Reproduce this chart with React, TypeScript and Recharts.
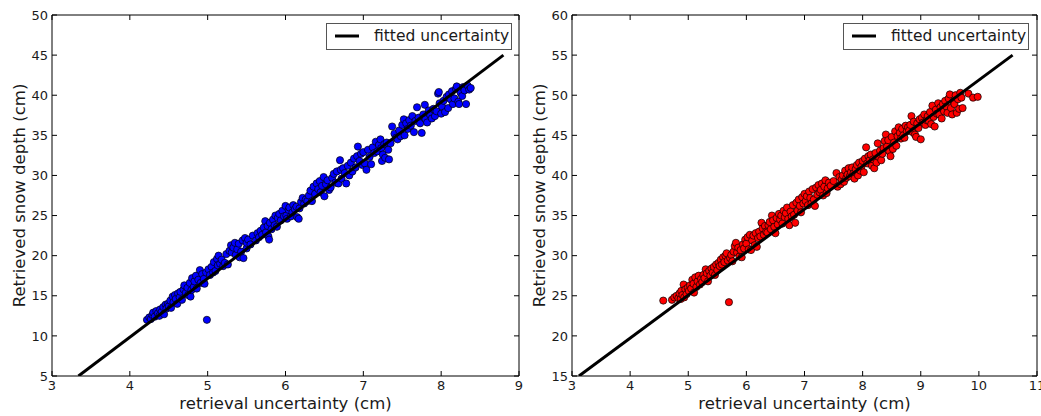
import React from 'react';
import { ScatterChart, Scatter, XAxis, YAxis, Legend } from 'recharts';

const leftPoints: [number, number][] = [
  [4.22, 12.0], [4.25, 12.3], [4.27, 12.1], [4.29, 12.6], [4.3, 12.9], [4.32, 12.4], [4.34, 13.1], [4.36, 12.8],
  [4.38, 12.5], [4.39, 13.3], [4.41, 13.0], [4.43, 13.6], [4.44, 12.7], [4.46, 13.9], [4.47, 13.4], [4.49, 14.0], [4.5, 13.7],
  [4.52, 14.4], [4.53, 13.5], [4.55, 14.9], [4.56, 14.2], [4.58, 15.1], [4.59, 14.6], [4.61, 14.0], [4.62, 15.3],
  [4.64, 14.8], [4.65, 15.5], [4.67, 14.5], [4.69, 15.8], [4.7, 16.3], [4.72, 15.4], [4.74, 16.0], [4.75, 15.1],
  [4.77, 16.6], [4.78, 14.9], [4.79, 15.7],
  [4.8, 17.2], [4.82, 16.1], [4.83, 16.8], [4.85, 17.5], [4.86, 15.9], [4.88, 17.0], [4.9, 18.2], [4.91, 16.6],
  [4.93, 17.7], [4.95, 17.1], [4.96, 16.5], [4.98, 17.9],
  [4.99, 12.0],
  [5.01, 18.3], [5.03, 17.6], [5.05, 18.6], [5.07, 17.9], [5.08, 19.2], [5.1, 18.1], [5.12, 19.6], [5.13, 18.8],
  [5.14, 20.0], [5.16, 19.0], [5.18, 19.5], [5.2, 18.7], [5.22, 19.1], [5.24, 20.2], [5.26, 18.9], [5.28, 20.6],
  [5.3, 21.3], [5.31, 20.4], [5.33, 21.0], [5.35, 21.6], [5.36, 20.1], [5.38, 20.8], [5.4, 21.5], [5.41, 19.8],
  [5.43, 20.5], [5.45, 21.9], [5.46, 19.7], [5.48, 22.2], [5.5, 20.9], [5.5, 21.6], [5.52, 22.0], [5.55, 21.4], [5.58, 22.5],
  [5.62, 21.9], [5.64, 22.8], [5.66, 22.3], [5.68, 23.1], [5.7, 22.6], [5.72, 23.5], [5.74, 24.3], [5.75, 22.9],
  [5.77, 23.7], [5.78, 22.4], [5.79, 22.0], [5.8, 24.1], [5.82, 23.3], [5.84, 24.5], [5.86, 23.8], [5.87, 25.0],
  [5.89, 23.6], [5.9, 24.7], [5.92, 25.2], [5.94, 24.4], [5.96, 25.6], [5.98, 24.9],
  [6.0, 26.2], [6.01, 25.0], [6.02, 24.6], [6.04, 25.7], [6.05, 26.0], [6.07, 24.9], [6.09, 25.4], [6.1, 26.3],
  [6.12, 25.8], [6.14, 26.1], [6.15, 24.8], [6.17, 24.6], [6.18, 25.9], [6.2, 26.7], [6.22, 27.2], [6.24, 26.5],
  [6.26, 27.0], [6.28, 26.8], [6.3, 27.5], [6.32, 28.1], [6.34, 26.8], [6.36, 28.6], [6.38, 27.7],
  [6.4, 29.0], [6.42, 28.3], [6.44, 29.3], [6.45, 27.9], [6.47, 28.7], [6.49, 29.8], [6.5, 27.4], [6.52, 28.9],
  [6.54, 29.4], [6.56, 28.2], [6.58, 28.5], [6.6, 29.7], [6.62, 30.2], [6.64, 29.1], [6.66, 30.5], [6.68, 29.0],
  [6.7, 31.9], [6.71, 30.7], [6.72, 29.6], [6.74, 30.9], [6.76, 30.3], [6.78, 29.0],
  [6.8, 31.2], [6.82, 30.0], [6.84, 31.6], [6.86, 30.5], [6.88, 32.1], [6.9, 31.0], [6.92, 32.4], [6.93, 33.6],
  [6.95, 31.8], [6.97, 32.7], [6.99, 31.3], [7.0, 32.9], [7.02, 31.5], [7.04, 30.7], [7.06, 33.2], [7.08, 32.3],
  [7.1, 31.4], [7.12, 33.5], [7.14, 32.8], [7.16, 34.2], [7.18, 33.0],
  [7.2, 33.8], [7.22, 34.5], [7.23, 33.4], [7.24, 31.8], [7.25, 32.6], [7.27, 33.9], [7.28, 32.2], [7.3, 34.1],
  [7.32, 33.2], [7.33, 32.0], [7.35, 34.0], [7.37, 36.1], [7.4, 35.2], [7.42, 34.7], [7.44, 34.5], [7.46, 35.6], [7.48, 34.9],
  [7.5, 36.3], [7.52, 37.0], [7.53, 35.0], [7.55, 36.5], [7.57, 35.8], [7.59, 36.9], [7.61, 36.2], [7.63, 37.4],
  [7.65, 35.4], [7.67, 36.8], [7.69, 38.5], [7.71, 37.2], [7.73, 36.5], [7.75, 35.3], [7.77, 37.6], [7.79, 38.8],
  [7.8, 37.0], [7.82, 36.6], [7.84, 38.1], [7.86, 37.5], [7.88, 37.1], [7.9, 38.3], [7.92, 37.4], [7.94, 38.0],
  [7.96, 40.2], [7.97, 40.4], [7.98, 39.0], [8.0, 37.7], [8.01, 38.6], [8.03, 39.3], [8.05, 37.9], [8.07, 39.8], [8.09, 38.4],
  [8.1, 40.1], [8.12, 39.5], [8.14, 40.5], [8.15, 38.9], [8.17, 39.6], [8.19, 40.8], [8.2, 41.1], [8.22, 39.2],
  [8.23, 38.9], [8.25, 40.3], [8.27, 39.9], [8.28, 41.0], [8.3, 40.6], [8.32, 38.9], [8.34, 41.2], [8.36, 40.7], [8.38, 40.9],
];

const rightPoints: [number, number][] = [
  [4.57, 24.4],
  [4.72, 24.5], [4.76, 24.8], [4.8, 25.0], [4.83, 24.7], [4.85, 25.3], [4.87, 24.6], [4.88, 25.6], [4.9, 25.1],
  [4.92, 26.4], [4.93, 24.8], [4.95, 25.8], [4.97, 25.2], [4.99, 26.0],
  [5.01, 25.6], [5.03, 26.3], [5.05, 25.9], [5.07, 27.0], [5.09, 26.5], [5.1, 25.4], [5.12, 27.3], [5.14, 26.1],
  [5.16, 26.8], [5.18, 27.5], [5.2, 26.4], [5.22, 27.1], [5.24, 26.7], [5.26, 27.6], [5.28, 27.2], [5.3, 28.3],
  [5.32, 27.8], [5.34, 26.8], [5.36, 28.1], [5.38, 27.5],
  [5.4, 28.4], [5.42, 27.9], [5.44, 28.6], [5.46, 27.6], [5.48, 28.9], [5.5, 28.2], [5.52, 29.1], [5.54, 28.7],
  [5.56, 29.5], [5.58, 28.9], [5.6, 29.8], [5.62, 29.2], [5.64, 30.0], [5.66, 30.3], [5.68, 29.4], [5.7, 24.2],
  [5.72, 29.7], [5.74, 30.1], [5.76, 29.3], [5.78, 30.5],
  [5.8, 31.2], [5.82, 31.6], [5.84, 30.4], [5.86, 31.0], [5.88, 29.9], [5.9, 30.7], [5.92, 29.8], [5.94, 31.4],
  [5.96, 30.9], [5.98, 32.0], [6.0, 31.5], [6.02, 32.3], [6.04, 30.8], [6.06, 32.6], [6.08, 30.7], [6.1, 31.9],
  [6.12, 32.5], [6.14, 31.3], [6.16, 32.8], [6.18, 31.1],
  [6.2, 32.2], [6.22, 33.0], [6.24, 32.4], [6.26, 34.1], [6.28, 33.4], [6.3, 32.6], [6.32, 33.7], [6.34, 33.0],
  [6.36, 32.9], [6.38, 33.8], [6.4, 34.2], [6.42, 33.3], [6.44, 35.0], [6.46, 34.4], [6.48, 33.6], [6.5, 32.8],
  [6.52, 34.7], [6.54, 33.9], [6.56, 35.2], [6.58, 34.5],
  [6.6, 35.0], [6.62, 34.0], [6.64, 35.6], [6.66, 34.8], [6.68, 35.3], [6.7, 36.0], [6.72, 34.6], [6.74, 33.8],
  [6.76, 35.5], [6.78, 34.9], [6.8, 36.3], [6.82, 35.1], [6.84, 34.1], [6.86, 36.6], [6.88, 35.6], [6.9, 37.0],
  [6.92, 36.2], [6.94, 35.4], [6.96, 37.3], [6.98, 36.5],
  [7.0, 37.7], [7.02, 36.8], [7.04, 37.4], [7.06, 36.3], [7.08, 38.0], [7.1, 37.2], [7.12, 36.5], [7.14, 38.3],
  [7.16, 37.0], [7.18, 36.2], [7.2, 38.5], [7.22, 37.6], [7.24, 38.8], [7.26, 37.9], [7.28, 38.2], [7.3, 39.0],
  [7.32, 37.5], [7.34, 38.6], [7.36, 39.4], [7.38, 37.8],
  [7.4, 38.4], [7.42, 39.1], [7.45, 38.7], [7.5, 39.3], [7.55, 40.3], [7.57, 38.6], [7.6, 39.8], [7.62, 38.9],
  [7.64, 39.5], [7.66, 40.0], [7.68, 39.2], [7.7, 40.6], [7.72, 39.7], [7.74, 40.1], [7.76, 40.9], [7.78, 39.9],
  [7.8, 40.4], [7.82, 41.0], [7.84, 40.2], [7.86, 39.6], [7.88, 40.8], [7.9, 41.3], [7.92, 40.0], [7.94, 41.6],
  [7.96, 40.6], [7.98, 41.1], [8.0, 41.8], [8.02, 40.4], [8.04, 42.1], [8.06, 43.5], [8.08, 41.5], [8.1, 42.4],
  [8.12, 41.9], [8.14, 42.6], [8.16, 41.2], [8.18, 42.0], [8.2, 40.9],
  [8.22, 42.8], [8.24, 41.6], [8.26, 44.0], [8.28, 42.3], [8.3, 43.1], [8.32, 41.9], [8.34, 42.7], [8.36, 43.4],
  [8.38, 44.3], [8.4, 45.1], [8.42, 43.6], [8.44, 44.4], [8.46, 43.0], [8.48, 42.4], [8.5, 44.8], [8.52, 43.3],
  [8.54, 44.1], [8.56, 45.5], [8.58, 43.7],
  [8.6, 44.9], [8.62, 46.0], [8.64, 45.3], [8.66, 44.6], [8.68, 45.8], [8.7, 45.0], [8.72, 44.7], [8.74, 46.2],
  [8.76, 45.5], [8.78, 46.0], [8.8, 45.6], [8.82, 46.3], [8.84, 47.4], [8.86, 45.4], [8.88, 46.7], [8.9, 45.1],
  [8.92, 44.8], [8.94, 46.5], [8.96, 45.9], [8.98, 47.0],
  [9.0, 44.5], [9.02, 47.2], [9.04, 46.6], [9.06, 47.6], [9.08, 46.3], [9.1, 46.9], [9.12, 47.4], [9.14, 46.8],
  [9.16, 47.9], [9.18, 46.4], [9.2, 48.7], [9.22, 47.3], [9.24, 46.1], [9.26, 48.2], [9.28, 47.7], [9.3, 49.0],
  [9.32, 47.6], [9.34, 48.5], [9.36, 47.1], [9.38, 48.9],
  [9.4, 48.0], [9.42, 49.3], [9.44, 48.6], [9.46, 47.8], [9.48, 49.6], [9.5, 50.1], [9.52, 48.4], [9.54, 47.6],
  [9.56, 49.2], [9.58, 48.9], [9.6, 50.0], [9.62, 47.8], [9.64, 49.5], [9.66, 48.3], [9.68, 50.3], [9.7, 49.7],
  [9.72, 48.4], [9.82, 50.2], [9.9, 49.7], [9.98, 49.8],
];

const leftFit: [number, number][] = [[3.34, 5], [8.8, 45]];
const rightFit: [number, number][] = [[3.12, 15], [10.58, 55]];

const leftXTicks = [3, 4, 5, 6, 7, 8, 9];
const leftYTicks = [5, 10, 15, 20, 25, 30, 35, 40, 45, 50];
const rightXTicks = [3, 4, 5, 6, 7, 8, 9, 10, 11];
const rightYTicks = [15, 20, 25, 30, 35, 40, 45, 50, 55, 60];

const xLabel = 'retrieval uncertainty (cm)';
const yLabel = 'Retrieved snow depth (cm)';
const legendLabel = 'fitted uncertainty';

const FONT = "'DejaVu Sans', sans-serif";
const TEXT = '#1a1a1a';

const NoTick = () => <g />;

const YLabel = (props: any) => {
  const vb = props.viewBox || { x: 0, y: 15, width: 52, height: 361 };
  const cx = vb.x + 19;
  const cy = vb.y + vb.height / 2;
  return (
    <text x={cx} y={cy} transform={`rotate(-90 ${cx} ${cy})`} textAnchor="middle" dominantBaseline="central"
      fontSize={16.5} fill={TEXT} fontFamily={FONT}>{yLabel}</text>
  );
};

const XLabel = (props: any) => {
  const vb = props.viewBox || { x: 52, y: 376, width: 467, height: 40 };
  const cx = vb.x + vb.width / 2;
  const cy = vb.y + 33;
  return (
    <text x={cx} y={cy} textAnchor="middle" fontSize={16.5} fill={TEXT} fontFamily={FONT}>{xLabel}</text>
  );
};

const LegendBox = () => (
  <div style={{
    position: 'relative', width: 186, height: 27, boxSizing: 'border-box', border: '1px solid #555',
    background: '#fff', fontFamily: FONT, fontSize: 15.5, color: TEXT,
  }}>
    <svg width={40} height={25} style={{ position: 'absolute', left: 0, top: 0 }}>
      <line x1={8} x2={32} y1={12} y2={12} stroke="#000" strokeWidth={3} />
    </svg>
    <span style={{ position: 'absolute', left: 47, top: 3, whiteSpace: 'nowrap', lineHeight: '18px' }}>{legendLabel}</span>
  </div>
);

function makeDot(color: string) {
  return (props: any) => (
    <circle cx={props.cx} cy={props.cy} r={3.6} fill={color} stroke="#000" strokeWidth={0.7} />
  );
}

type PanelProps = {
  left: number; width: number; rightMargin: number; legendLeft: number;
  points: [number, number][]; fit: [number, number][];
  xDomain: [number, number]; xTicks: number[]; yDomain: [number, number]; yTicks: number[]; color: string;
};

function Panel(p: PanelProps) {
  const data = p.points.map(([x, y]) => ({ x, y }));
  const fitData = p.fit.map(([x, y]) => ({ x, y }));
  const tickStyle = { fontSize: 13, fill: TEXT, fontFamily: FONT };
  return (
    <div style={{ position: 'absolute', left: p.left, top: 0 }}>
      <ScatterChart width={p.width} height={416} margin={{ top: 14, right: p.rightMargin, bottom: 0, left: 0 }}>
        <XAxis xAxisId="b" type="number" dataKey="x" domain={p.xDomain} ticks={p.xTicks} allowDataOverflow
          orientation="bottom" height={40} tickSize={-5} tickMargin={10} interval={0} tick={tickStyle}
          axisLine={{ stroke: '#000' }} tickLine={{ stroke: '#000' }} label={<XLabel />} />
        <XAxis xAxisId="t" type="number" dataKey="x" domain={p.xDomain} ticks={p.xTicks} allowDataOverflow
          orientation="top" height={1} tickSize={-5} interval={0} tick={NoTick}
          axisLine={{ stroke: '#000' }} tickLine={{ stroke: '#000' }} />
        <YAxis yAxisId="l" type="number" dataKey="y" domain={p.yDomain} ticks={p.yTicks} allowDataOverflow
          orientation="left" width={52} tickSize={-5} tickMargin={9} interval={0} tick={tickStyle}
          axisLine={{ stroke: '#000' }} tickLine={{ stroke: '#000' }} label={<YLabel />} />
        <YAxis yAxisId="r" type="number" dataKey="y" domain={p.yDomain} ticks={p.yTicks} allowDataOverflow
          orientation="right" width={1} tickSize={-5} interval={0} tick={NoTick}
          axisLine={{ stroke: '#000' }} tickLine={{ stroke: '#000' }} />
        <Legend layout="horizontal" verticalAlign="middle" align="center" content={() => <LegendBox />}
          wrapperStyle={{ position: 'absolute', left: p.legendLeft, top: 23, width: 186, height: 27 }} />
        <Scatter xAxisId="t" yAxisId="r" data={fitData} fill="none" shape={NoTick}
          isAnimationActive={false} legendType="none" />
        <Scatter xAxisId="b" yAxisId="l" data={data} fill={p.color} shape={makeDot(p.color)}
          isAnimationActive={false} legendType="none" />
        <Scatter xAxisId="b" yAxisId="l" data={fitData} name={legendLabel} fill="#000"
          line={{ stroke: '#000', strokeWidth: 3 }} lineType="joint" shape={NoTick} isAnimationActive={false} />
      </ScatterChart>
    </div>
  );
}

export default function App() {
  return (
    <div style={{ position: 'absolute', left: 0, top: 0, width: 1041, height: 416, background: '#fff', overflow: 'hidden' }}>
      <Panel left={0} width={530} rightMargin={10} legendLeft={326} points={leftPoints} fit={leftFit}
        xDomain={[3, 9]} xTicks={leftXTicks} yDomain={[5, 50]} yTicks={leftYTicks} color="#0000ff" />
      <Panel left={520} width={521} rightMargin={3} legendLeft={323} points={rightPoints} fit={rightFit}
        xDomain={[3, 11]} xTicks={rightXTicks} yDomain={[15, 60]} yTicks={rightYTicks} color="#ff0000" />
    </div>
  );
}
